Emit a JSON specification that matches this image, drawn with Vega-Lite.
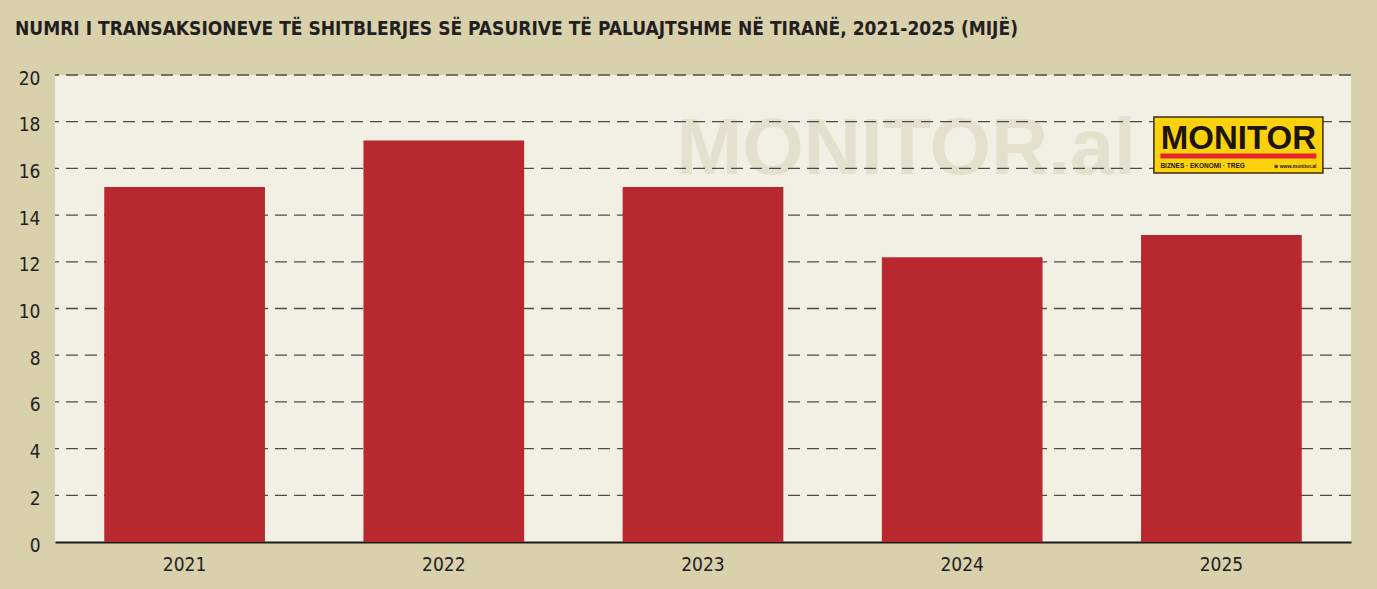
{
  "$schema": "https://vega.github.io/schema/vega-lite/v6.json",
  "width": 1296,
  "height": 467,
  "autosize": "none",
  "padding": {"left": 55, "top": 75, "right": 26, "bottom": 47},
  "background": "#d9d0ac",
  "view": {"fill": "#f2f0e4", "stroke": null},
  "title": {
    "text": "NUMRI I TRANSAKSIONEVE TË SHITBLERJES SË PASURIVE TË PALUAJTSHME NË TIRANË, 2021-2025 (MIJË)",
    "anchor": "start",
    "frame": "group",
    "dx": -40,
    "dy": -2,
    "offset": 28,
    "font": "DejaVu Sans Condensed",
    "fontWeight": "bold",
    "fontSize": 19,
    "color": "#231f20"
  },
  "data": {
    "values": [
      {"year": "2021", "value": 15.2},
      {"year": "2022", "value": 17.2},
      {"year": "2023", "value": 15.2},
      {"year": "2024", "value": 12.2},
      {"year": "2025", "value": 13.15}
    ]
  },
  "layer": [
    {
      "data": {"values": [{}]},
      "mark": {"type": "text", "font": "Liberation Sans", "fontWeight": 900, "fontSize": 79, "color": "#e4e0cd", "align": "center", "baseline": "alphabetic", "dx": -56},
      "encoding": {
        "x": {"datum": "2024", "type": "nominal"},
        "y": {"datum": 15.74, "type": "quantitative"},
        "text": {"value": "MONITOR.al"}
      }
    },
    {
      "data": {"values": [{"tick": 2}, {"tick": 4}, {"tick": 6}, {"tick": 8}, {"tick": 10}, {"tick": 12}, {"tick": 14}, {"tick": 16}, {"tick": 18}, {"tick": 20}]},
      "mark": {"type": "rule", "color": "#4d4b45", "strokeWidth": 1.3, "strokeDash": [12, 7]},
      "encoding": {
        "y": {"field": "tick", "type": "quantitative"}
      }
    },
    {
      "mark": {"type": "bar", "color": "#b8282f"},
      "encoding": {
        "x": {
          "field": "year",
          "type": "nominal",
          "scale": {"paddingInner": 0.38, "paddingOuter": 0.19},
          "axis": {
            "title": null,
            "labelAngle": 0,
            "labelAlign": "center",
            "ticks": false,
            "domainColor": "#1a1a1a",
            "domainWidth": 2,
            "labelFont": "DejaVu Sans Condensed",
            "labelFontSize": 19,
            "labelColor": "#231f20",
            "labelPadding": 22
          }
        },
        "y": {
          "field": "value",
          "type": "quantitative",
          "scale": {"domain": [0, 20], "nice": false},
          "axis": {
            "title": null,
            "values": [0, 2, 4, 6, 8, 10, 12, 14, 16, 18, 20],
            "grid": false,
            "domain": false,
            "ticks": false,
            "labelFont": "DejaVu Sans Condensed",
            "labelFontSize": 19,
            "labelColor": "#231f20",
            "labelPadding": 15,
            "labelOffset": 3
          }
        }
      }
    },
    {
      "data": {"values": [{}]},
      "mark": {"type": "bar", "width": 169, "xOffset": 17, "color": "#fcd20c", "stroke": "#3b2d0a", "strokeWidth": 1.5},
      "encoding": {
        "x": {"datum": "2025", "type": "nominal"},
        "y": {"datum": 18.2, "type": "quantitative"},
        "y2": {"datum": 15.8}
      }
    },
    {
      "data": {"values": [{}]},
      "mark": {"type": "bar", "width": 156, "xOffset": 17, "color": "#e3262b"},
      "encoding": {
        "x": {"datum": "2025", "type": "nominal"},
        "y": {"datum": 16.64, "type": "quantitative"},
        "y2": {"datum": 16.42}
      }
    },
    {
      "data": {"values": [{}]},
      "mark": {"type": "text", "font": "Liberation Sans", "fontWeight": 900, "fontSize": 33, "color": "#1d1509", "align": "center", "baseline": "alphabetic", "dx": 17},
      "encoding": {
        "x": {"datum": "2025", "type": "nominal"},
        "y": {"datum": 16.81, "type": "quantitative"},
        "text": {"value": "MONITOR"}
      }
    },
    {
      "data": {"values": [{}]},
      "mark": {"type": "text", "font": "Liberation Sans", "fontWeight": "bold", "fontSize": 6.5, "color": "#1d1509", "align": "left", "baseline": "alphabetic", "dx": -61},
      "encoding": {
        "x": {"datum": "2025", "type": "nominal"},
        "y": {"datum": 16.03, "type": "quantitative"},
        "text": {"value": "BIZNES   ·   EKONOMI   ·   TREG"}
      }
    },
    {
      "data": {"values": [{}]},
      "mark": {"type": "text", "font": "Liberation Sans", "fontWeight": "bold", "fontSize": 5, "color": "#1d1509", "align": "right", "baseline": "alphabetic", "dx": 95},
      "encoding": {
        "x": {"datum": "2025", "type": "nominal"},
        "y": {"datum": 16.03, "type": "quantitative"},
        "text": {"value": "⊕ www.monitor.al"}
      }
    }
  ]
}
